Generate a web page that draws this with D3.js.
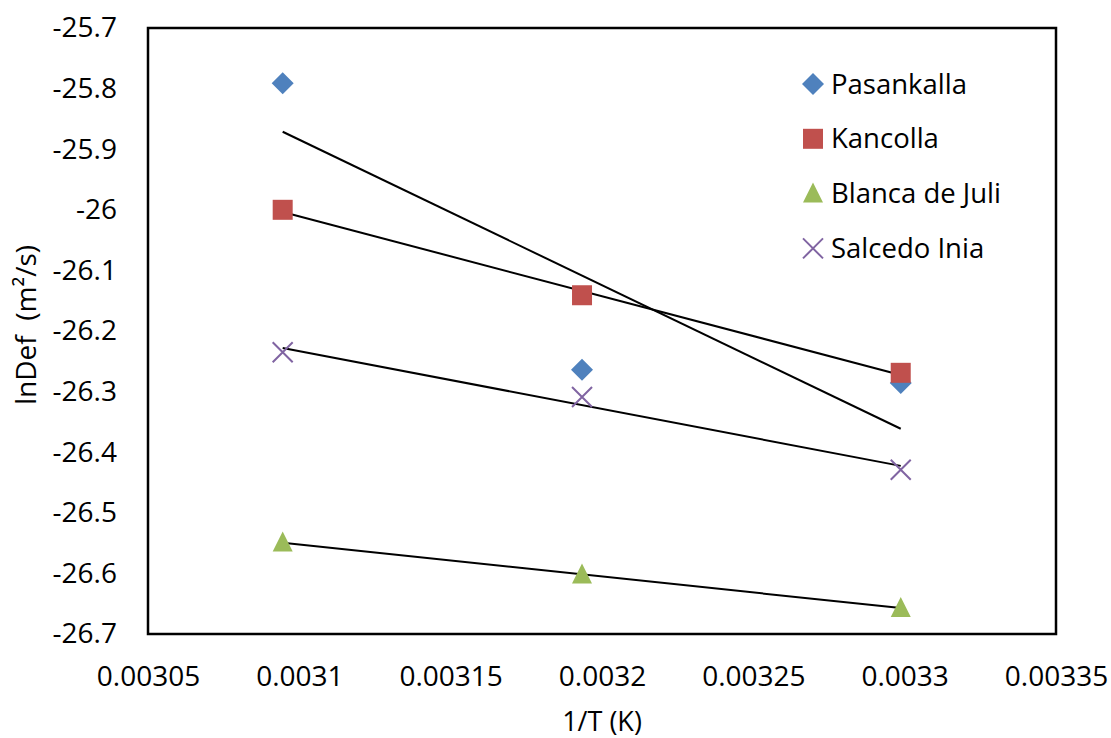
<!DOCTYPE html>
<html>
<head>
<meta charset="utf-8">
<script src="https://cdn.jsdelivr.net/npm/d3@7"></script>
<style>
  html, body { margin: 0; padding: 0; background: #fff; }
  svg text { font-family: "Open Sans", "Liberation Sans", sans-serif; fill: #000; }
</style>
</head>
<body>
<svg id="chart" width="1111" height="738"></svg>
<script>
// 1/T for drying temperatures of 50, 40 and 30 °C
const invT = [0.0030945, 0.0031934, 0.0032987];

const seriesNames = ["Pasankalla", "Kancolla", "Blanca de Juli", "Salcedo Inia"];
const pasankalla = [-25.791, -26.264, -26.286];
const kancolla = [-26.000, -26.141, -26.269];
const blancaDeJuli = [-26.549, -26.602, -26.657];
const salcedoInia = [-26.235, -26.309, -26.429];

const xTicks = [0.00305, 0.0031, 0.00315, 0.0032, 0.00325, 0.0033, 0.00335];
const yTicks = [-26.7, -26.6, -26.5, -26.4, -26.3, -26.2, -26.1, -26, -25.9, -25.8, -25.7];

const colors = ["#4F81BD", "#C0504D", "#9BBB59", "#8064A2"];
const shapes = ["diamond", "square", "triangle", "cross"];
const seriesValues = [pasankalla, kancolla, blancaDeJuli, salcedoInia];

const svg = d3.select("#chart");
const plot = { left: 148, right: 1056, top: 28, bottom: 634 };

const x = d3.scaleLinear().domain([0.00305, 0.00335]).range([plot.left, plot.right]);
const y = d3.scaleLinear().domain([-26.7, -25.7]).range([plot.bottom, plot.top]);

// tick labels
svg.append("g")
  .attr("transform", `translate(0,${plot.bottom})`)
  .call(d3.axisBottom(x).tickValues(xTicks).tickFormat(d => String(+d.toFixed(5))).tickSize(0).tickPadding(32))
  .call(g => g.select(".domain").remove())
  .selectAll("text").style("font-size", "28px").attr("fill", "#000");

svg.append("g")
  .attr("transform", `translate(${plot.left},0)`)
  .call(d3.axisLeft(y).tickValues(yTicks).tickFormat(d => String(+d.toFixed(1))).tickSize(0).tickPadding(31))
  .call(g => g.select(".domain").remove())
  .selectAll("text").style("font-size", "28px").attr("fill", "#000");

// plot frame
svg.append("rect")
  .attr("x", plot.left).attr("y", plot.top)
  .attr("width", plot.right - plot.left).attr("height", plot.bottom - plot.top)
  .attr("fill", "none").attr("stroke", "#000").attr("stroke-width", 2.5);

// axis titles
svg.append("text")
  .attr("x", 602).attr("y", 731)
  .attr("text-anchor", "middle").style("font-size", "27px")
  .text("1/T (K)");

svg.append("text")
  .attr("transform", `translate(36,325) rotate(-90)`)
  .attr("text-anchor", "middle").style("font-size", "28px")
  .style("white-space", "pre")
  .text("lnDef  (m²/s)");

// least-squares trend line for each series
function fit(xs, ys) {
  const mx = d3.mean(xs), my = d3.mean(ys);
  let sxy = 0, sxx = 0;
  xs.forEach((xi, i) => { sxy += (xi - mx) * (ys[i] - my); sxx += (xi - mx) ** 2; });
  const b = sxy / sxx;
  return xv => my + b * (xv - mx);
}

const xMin = d3.min(invT), xMax = d3.max(invT);
seriesValues.forEach(vals => {
  const f = fit(invT, vals);
  svg.append("line")
    .attr("x1", x(xMin)).attr("y1", y(f(xMin)))
    .attr("x2", x(xMax)).attr("y2", y(f(xMax)))
    .attr("stroke", "#000").attr("stroke-width", 2);
});

function drawMarker(g, shape, color, cx, cy) {
  const s = 10;
  if (shape === "diamond") {
    g.append("path").attr("d", `M${cx},${cy - s - 1}L${cx + s + 1},${cy}L${cx},${cy + s + 1}L${cx - s - 1},${cy}Z`).attr("fill", color);
  } else if (shape === "square") {
    g.append("rect").attr("x", cx - s).attr("y", cy - s).attr("width", 2 * s).attr("height", 2 * s).attr("fill", color);
  } else if (shape === "triangle") {
    g.append("path").attr("d", `M${cx},${cy - s - 1}L${cx + s},${cy + s - 1}L${cx - s},${cy + s - 1}Z`).attr("fill", color);
  } else {
    g.append("path").attr("d", `M${cx - s},${cy - s}L${cx + s},${cy + s}M${cx - s},${cy + s}L${cx + s},${cy - s}`)
      .attr("stroke", color).attr("stroke-width", 2).attr("fill", "none");
  }
}

// data markers
seriesValues.forEach((vals, si) => {
  const g = svg.append("g");
  vals.forEach((v, i) => drawMarker(g, shapes[si], colors[si], x(invT[i]), y(v)));
});

// legend
const legend = svg.append("g");
seriesNames.forEach((name, i) => {
  const ly = 84 + i * 54.8;
  drawMarker(legend, shapes[i], colors[i], 813, ly);
  legend.append("text").attr("x", 831).attr("y", ly).attr("dy", "0.35em")
    .style("font-size", "27.5px").text(name);
});
</script>
</body>
</html>
